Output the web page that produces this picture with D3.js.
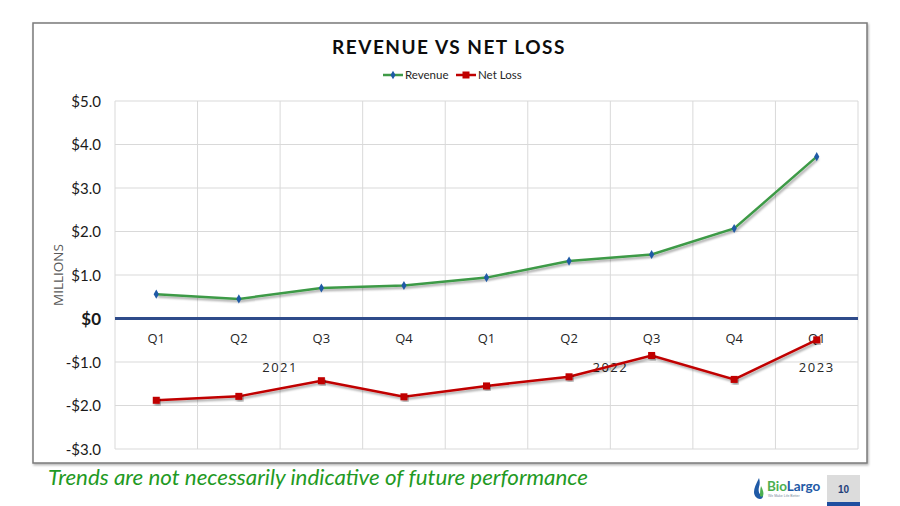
<!DOCTYPE html>
<html>
<head>
<meta charset="utf-8">
<script src="https://cdn.jsdelivr.net/npm/d3@7"></script>
<style>
  html,body{margin:0;padding:0;background:#fff;}
  svg{display:block;}
</style>
</head>
<body>
<svg id="chart" width="900" height="506"></svg>
<script>
// ---------- DATA ----------
const quarters = ["Q1","Q2","Q3","Q4","Q1","Q2","Q3","Q4","Q1"];
const years = [
  {label:"2021", from:0, to:3},
  {label:"2022", from:4, to:7},
  {label:"2023", from:8, to:8}
];
const revenue = [0.56, 0.45, 0.70, 0.76, 0.94, 1.32, 1.47, 2.07, 3.72];
const netLoss = [-1.88, -1.79, -1.43, -1.80, -1.55, -1.34, -0.85, -1.40, -0.49];
const yTicks = [5, 4, 3, 2, 1, 0, -1, -2, -3];
const seriesNames = ["Revenue", "Net Loss"];

// ---------- SETUP ----------
const svg = d3.select("#chart");
const plot = {left:115, right:858, top:101, bottom:449};
const CAL = "Lato,'Liberation Sans',sans-serif";

const defs = svg.append("defs");
const sh = defs.append("filter").attr("id","shadow").attr("x","-10%").attr("y","-10%").attr("width","120%").attr("height","130%");
sh.append("feDropShadow").attr("dx",1.5).attr("dy",2).attr("stdDeviation",1.2).attr("flood-color","#000").attr("flood-opacity",0.35);
const bsh = defs.append("filter").attr("id","boxshadow").attr("x","-5%").attr("y","-5%").attr("width","110%").attr("height","110%");
bsh.append("feDropShadow").attr("dx",1).attr("dy",1.5).attr("stdDeviation",1).attr("flood-color","#000").attr("flood-opacity",0.3);
const fade = defs.append("linearGradient").attr("id","fade");
fade.append("stop").attr("offset","0%").attr("stop-color","#cfcfcf");
fade.append("stop").attr("offset","80%").attr("stop-color","#d8d8d8");
fade.append("stop").attr("offset","100%").attr("stop-color","#ffffff");

// chart frame
svg.append("rect").attr("x",33).attr("y",23).attr("width",834).attr("height",440)
  .attr("fill","#fff").attr("stroke","#7a7a7a").attr("stroke-width",1.5).attr("filter","url(#boxshadow)");

const x = d3.scaleBand().domain(d3.range(quarters.length)).range([plot.left, plot.right]).padding(0);
const y = d3.scaleLinear().domain([-3, 5]).range([plot.bottom, plot.top]);

// horizontal gridlines
svg.append("g").selectAll("line").data(yTicks).join("line")
  .attr("x1",plot.left).attr("x2",plot.right)
  .attr("y1",d=>y(d)).attr("y2",d=>y(d))
  .attr("stroke","#d9d9d9").attr("stroke-width",1);

// vertical gridlines at band boundaries
const bounds = d3.range(quarters.length+1).map(i => i<quarters.length ? x(i) : x(quarters.length-1)+x.bandwidth());
svg.append("g").selectAll("line").data(bounds).join("line")
  .attr("x1",d=>d).attr("x2",d=>d)
  .attr("y1",plot.top).attr("y2",plot.bottom)
  .attr("stroke","#d9d9d9").attr("stroke-width",1);

// Y axis labels
const fmt = d => d===0 ? "$0" : (d<0 ? "-$" + Math.abs(d).toFixed(1) : "$" + d.toFixed(1));
const yAxis = d3.axisLeft(y).tickValues(yTicks).tickFormat(fmt).tickSize(0).tickPadding(0);
const yg = svg.append("g").attr("transform",`translate(${plot.left-14},0)`).call(yAxis);
yg.select(".domain").remove();
yg.selectAll("text")
  .attr("font-family",CAL).attr("fill","#1a1a1a").attr("dy","0.35em")
  .attr("font-weight",d=>d===0?"bold":"normal")
  .attr("font-size",d=>d===0?17:15);

// axis title
svg.append("text").attr("transform",`translate(63,${275}) rotate(-90)`)
  .attr("text-anchor","middle").attr("font-family","'Open Sans',sans-serif")
  .attr("font-size",13.5).attr("fill","#595959").text("MILLIONS");

// zero line (category axis)
svg.append("line").attr("x1",plot.left).attr("x2",plot.right).attr("y1",y(0)).attr("y2",y(0))
  .attr("stroke","#2f4b8a").attr("stroke-width",3);

// quarter labels via axisBottom
const xAxis = d3.axisBottom(x).tickFormat(i=>quarters[i]).tickSize(0).tickPadding(0);
const xg = svg.append("g").attr("transform",`translate(0,${y(0)})`).call(xAxis);
xg.select(".domain").remove();
xg.selectAll("text").attr("y",24).attr("dy",0)
  .attr("font-family","'Open Sans',sans-serif").attr("font-size",13).attr("fill","#262626");

// year labels
svg.append("g").selectAll("text").data(years).join("text")
  .attr("x",d => (x(d.from) + x(d.to) + x.bandwidth())/2)
  .attr("y",y(0)+53)
  .attr("text-anchor","middle").attr("font-family","'Open Sans',sans-serif")
  .attr("font-size",13).attr("letter-spacing",1.5).attr("fill","#262626")
  .text(d=>d.label);

// lines
const line = d3.line().x((d,i)=>x(i)+x.bandwidth()/2).y(d=>y(d));
svg.append("path").datum(revenue).attr("d",line).attr("fill","none")
  .attr("stroke","#3e9a47").attr("stroke-width",2.5).attr("filter","url(#shadow)");
svg.append("g").selectAll("path").data(revenue).join("path")
  .attr("d",d3.symbol(d3.symbolDiamond,24)())
  .attr("transform",(d,i)=>`translate(${x(i)+x.bandwidth()/2},${y(d)})`)
  .attr("fill","#1f5aa6");

svg.append("path").datum(netLoss).attr("d",line).attr("fill","none")
  .attr("stroke","#c00000").attr("stroke-width",2.5).attr("filter","url(#shadow)");
svg.append("g").selectAll("rect").data(netLoss).join("rect")
  .attr("x",(d,i)=>x(i)+x.bandwidth()/2-3.5).attr("y",d=>y(d)-3.5)
  .attr("width",7).attr("height",7).attr("fill","#c00000").attr("filter","url(#shadow)");

// title
svg.append("text").attr("x",449).attr("y",54).attr("text-anchor","middle")
  .attr("font-family",CAL).attr("font-weight","bold")
  .attr("font-size",19).attr("letter-spacing",1.5).attr("fill","#0d0d0d")
  .text("REVENUE VS NET LOSS");

// legend
const legend = svg.append("g").attr("transform","translate(383,75)");
const lgColors = ["#3e9a47","#c00000"];
const lgX = [0, 73];
seriesNames.forEach((name,k)=>{
  const g = legend.append("g").attr("transform",`translate(${lgX[k]},0)`);
  g.append("line").attr("x1",0).attr("x2",20).attr("y1",0).attr("y2",0)
    .attr("stroke",lgColors[k]).attr("stroke-width",2.5);
  if(k===0){
    g.append("path").attr("d",d3.symbol(d3.symbolDiamond,22)()).attr("transform","translate(10,0)").attr("fill","#1f5aa6");
  } else {
    g.append("rect").attr("x",6.5).attr("y",-3.5).attr("width",7).attr("height",7).attr("fill","#c00000");
  }
  g.append("text").attr("x",22).attr("y",4).attr("font-family",CAL)
    .attr("font-size",11.5).attr("fill","#262626").text(name);
});

// footer disclaimer
svg.append("line").attr("x1",0).attr("x2",600).attr("y1",490.5).attr("y2",490.5)
  .attr("stroke","url(#fade)").attr("stroke-width",1);
svg.append("text").attr("x",48).attr("y",485)
  .attr("font-family",CAL).attr("font-style","italic")
  .attr("font-size",22).attr("fill","#1f9a24")
  .attr("textLength",540).attr("lengthAdjust","spacingAndGlyphs")
  .text("Trends are not necessarily indicative of future performance");

// logo
const logo = svg.append("g").attr("transform","translate(755,478)");
logo.append("path").attr("d","M4,0 C1,6 -1,10 -1,14 C-1,18 2,21 5,21 C7,21 8,19 8,18 C4,17 3,13 4,9 C5,6 5,3 4,0 Z").attr("fill","#1f5aa6");
logo.append("path").attr("d","M6,8 C8,12 9,15 8,18 C7,19 6,19 5,18 C5,15 5,12 6,8 Z").attr("fill","#4caf50");
logo.append("text").attr("x",12).attr("y",13).attr("font-family",CAL)
  .attr("font-weight","bold").attr("font-size",13.5)
  .call(t=>{ t.append("tspan").attr("fill","#4caf50").text("Bio"); t.append("tspan").attr("fill","#1f5aa6").text("Largo"); });
logo.append("text").attr("x",13).attr("y",19).attr("font-family","'Liberation Sans',sans-serif")
  .attr("font-size",3.5).attr("fill","#7a8aa0").text("We Make Life Better");

// page number box
svg.append("rect").attr("x",827).attr("y",475).attr("width",33).attr("height",31).attr("fill","#dcdcdc");
svg.append("rect").attr("x",827).attr("y",502).attr("width",33).attr("height",4).attr("fill","#1f4fa0");
svg.append("text").attr("x",843.5).attr("y",493).attr("text-anchor","middle")
  .attr("font-family","'Liberation Sans',sans-serif").attr("font-weight","bold")
  .attr("font-size",10).attr("fill","#1f3f7a").text("10");
</script>
</body>
</html>
